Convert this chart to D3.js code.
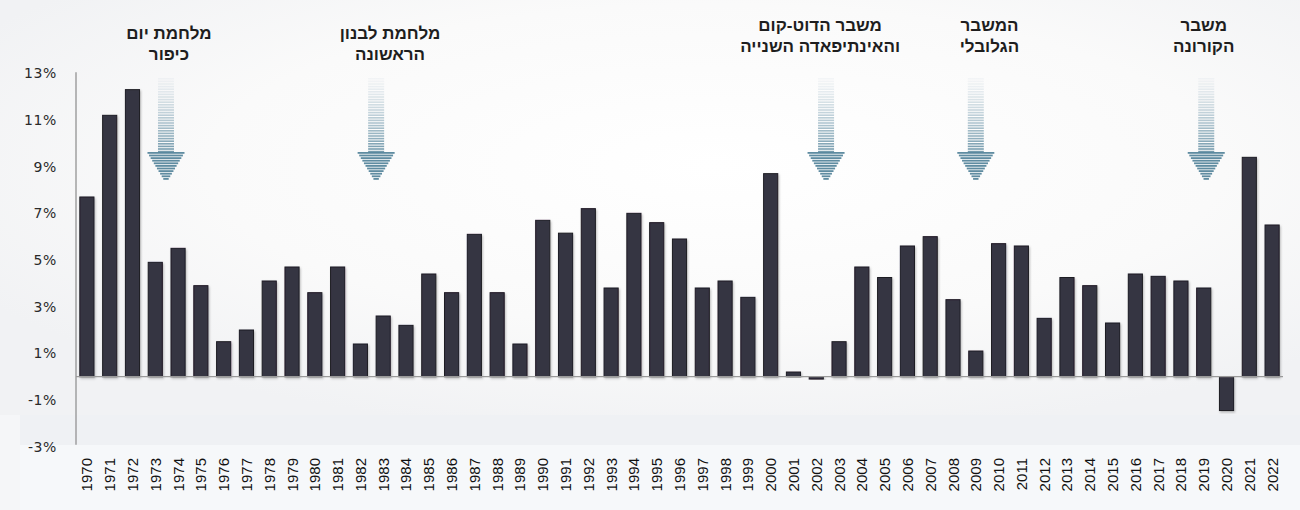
<!DOCTYPE html>
<html lang="he">
<head>
<meta charset="utf-8">
<script src="https://cdn.jsdelivr.net/npm/d3@7/dist/d3.min.js"></script>
<style>
  html, body { margin: 0; padding: 0; background: #f4f5f7; }
  svg { display: block; }
</style>
</head>
<body>
<svg id="chart" width="1300" height="510"></svg>
<script>
// ---- data ----
const years = d3.range(1970, 2023).map(String);
const growth = [
  7.7, 11.2, 12.3, 4.9, 5.5, 3.9, 1.5, 2.0, 4.1, 4.7,
  3.6, 4.7, 1.4, 2.6, 2.2, 4.4, 3.6, 6.1, 3.6, 1.4,
  6.7, 6.15, 7.2, 3.8, 7.0, 6.6, 5.9, 3.8, 4.1, 3.4,
  8.7, 0.2, -0.1, 1.5, 4.7, 4.25, 5.6, 6.0, 3.3, 1.1,
  5.7, 5.6, 2.5, 4.25, 3.9, 2.3, 4.4, 4.3, 4.1, 3.8,
  -1.45, 9.4, 6.5
];
const yTicks = [-3, -1, 1, 3, 5, 7, 9, 11, 13];
const eventLabels = [
  ["מלחמת יום", "כיפור"],
  ["מלחמת לבנון", "הראשונה"],
  ["משבר הדוט-קום", "והאינתיפאדה השנייה"],
  ["המשבר", "הגלובלי"],
  ["משבר", "הקורונה"]
];
const eventArrowYears = [1973.47, 1982.69, 2002.43, 2009.0, 2019.11];
const eventLabelYears = [1973.6, 1983.3, 2002.17, 2009.6, 2019.0];
const eventLabelRaised = [false, false, true, true, true];

// ---- layout ----
const svg = d3.select("#chart");
const W = 1300, H = 510;

const x = d3.scaleBand().domain(years).range([75.5, 1283.5])
  .paddingInner(0.38).paddingOuter(0.19);
const y = d3.scaleLinear().domain([-3, 13]).range([446.7, 73.3]);

const xc = v => x(String(Math.floor(v))) + x.bandwidth() / 2 + (v - Math.floor(v)) * x.step();

// ---- background ----
const defs = svg.append("defs");
const rg = defs.append("radialGradient").attr("id", "bgGrad")
  .attr("cx", "55%").attr("cy", "40%").attr("r", "65%");
rg.append("stop").attr("offset", "0%").attr("stop-color", "#ffffff");
rg.append("stop").attr("offset", "60%").attr("stop-color", "#fafafa");
rg.append("stop").attr("offset", "100%").attr("stop-color", "#f1f2f4");

const sh = defs.append("filter").attr("id", "shadow")
  .attr("x", "-30%").attr("y", "-10%").attr("width", "160%").attr("height", "120%");
sh.append("feDropShadow").attr("dx", 1).attr("dy", 1.5).attr("stdDeviation", 1.2)
  .attr("flood-color", "#000").attr("flood-opacity", 0.25);

svg.append("rect").attr("width", W).attr("height", H).attr("fill", "#f5f6f8");
svg.append("rect").attr("x", 0).attr("y", 0).attr("width", W).attr("height", 415)
  .attr("fill", "url(#bgGrad)");
svg.append("rect").attr("x", 20).attr("y", 415).attr("width", W - 20).attr("height", 30)
  .attr("fill", "#eff1f4");
svg.append("rect").attr("x", 20).attr("y", 445).attr("width", W - 20).attr("height", 65)
  .attr("fill", "#f6f8fa");

// ---- y axis ----
const yAxisG = svg.append("g").attr("class", "y-axis");
yAxisG.selectAll("text").data(yTicks).join("text")
  .attr("x", 57).attr("y", d => y(d))
  .attr("dy", "0.36em")
  .attr("text-anchor", "end")
  .attr("font-family", "DejaVu Sans, Verdana, sans-serif")
  .attr("font-size", 14)
  .attr("letter-spacing", 0.6)
  .attr("fill", "#2a2a2a")
  .text(d => d + "%");

svg.append("line")
  .attr("x1", 76).attr("x2", 76)
  .attr("y1", y(13) - 1).attr("y2", y(-3) - 2)
  .attr("stroke", "#8a8a8a").attr("stroke-width", 1.2);

// ---- bars ----
svg.append("g").selectAll("rect").data(growth).join("rect")
  .attr("x", (d, i) => x(years[i]))
  .attr("y", d => y(Math.max(0, d)))
  .attr("width", x.bandwidth())
  .attr("height", d => Math.abs(y(d) - y(0)))
  .attr("fill", "#363443")
  .attr("stroke", "#1d1b24")
  .attr("stroke-width", 1)
  .attr("filter", "url(#shadow)");

// zero line
svg.append("line")
  .attr("x1", 76).attr("x2", 1283)
  .attr("y1", y(0)).attr("y2", y(0))
  .attr("stroke", "#9a9a9a").attr("stroke-width", 1.2);

// ---- x axis labels ----
svg.append("g").selectAll("text").data(years).join("text")
  .attr("transform", d => `translate(${x(d) + x.bandwidth() / 2 + 5.5},458) rotate(-90)`)
  .attr("text-anchor", "end")
  .attr("font-family", "Liberation Sans, Arial, sans-serif")
  .attr("font-size", 15)
  .attr("fill", "#111")
  .text(d => d);

// ---- event arrows ----
const arrowColor = "#4e7f97";
const shaftTop = 78, headTop = 152, tip = 180;
eventArrowYears.forEach(ev => {
  const cx = xc(ev);
  const g = svg.append("g");
  const shaftRows = d3.range(shaftTop, headTop, 2.6);
  g.selectAll("rect.s").data(shaftRows).join("rect")
    .attr("x", cx - 8).attr("width", 16)
    .attr("y", d => d).attr("height", 1.6)
    .attr("fill", arrowColor)
    .attr("opacity", d => 0.05 + 0.75 * Math.pow((d - shaftTop) / (headTop - shaftTop), 1.3));
  const headRows = d3.range(headTop, tip, 2.6);
  g.selectAll("rect.h").data(headRows).join("rect")
    .attr("x", d => cx - 17 * (1 - (d - headTop) / (tip - headTop)) - 1.5)
    .attr("width", d => 34 * (1 - (d - headTop) / (tip - headTop)) + 3)
    .attr("y", d => d).attr("height", 1.8)
    .attr("fill", arrowColor)
    .attr("opacity", 0.9);
});

// ---- event labels ----
eventLabels.forEach((lines, i) => {
  const cx = xc(eventLabelYears[i]);
  const top = eventLabelRaised[i] ? 25 : 33;
  svg.append("text")
    .attr("x", cx).attr("y", top)
    .attr("text-anchor", "middle")
    .attr("direction", "rtl")
    .attr("font-family", "Liberation Sans, Arial, DejaVu Sans, sans-serif")
    .attr("font-weight", "bold")
    .attr("font-size", 17)
    .attr("fill", "#1e1e1e")
    .selectAll("tspan").data(lines).join("tspan")
    .attr("x", cx)
    .attr("dy", (d, j) => j === 0 ? "0.35em" : 21.5)
    .text(d => d);
});
</script>
</body>
</html>
